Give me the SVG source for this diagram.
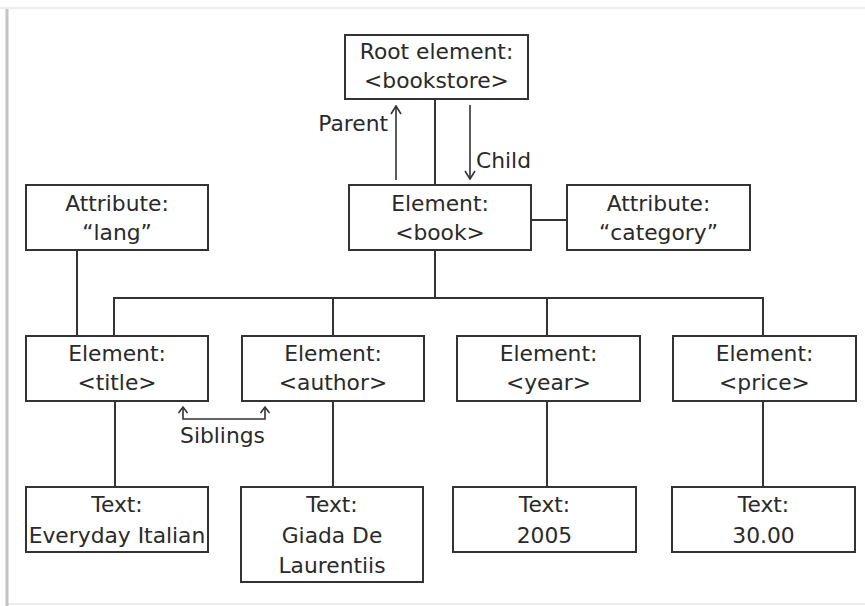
<svg xmlns="http://www.w3.org/2000/svg" width="865" height="606" viewBox="0 0 865 606">
  <style>
    .box { fill: #ffffff; stroke: #333333; stroke-width: 2; }
    .wire { fill: none; stroke: #333333; stroke-width: 2; }
    .arrow { fill: none; stroke: #333333; stroke-width: 1.6; }
    text { font-family: "DejaVu Sans", Verdana, sans-serif; font-size: 21.8px; fill: #2a2a2a; }
    .c { text-anchor: middle; }
  </style>
  <defs>
    <marker id="open-head" viewBox="0 0 10 12" refX="9" refY="6" markerWidth="10" markerHeight="12" markerUnits="userSpaceOnUse" orient="auto">
      <path d="M1,1 L9,6 L1,11" fill="none" stroke="#333333" stroke-width="1.6"/>
    </marker>
  </defs>

  <!-- page background and frame -->
  <rect x="0" y="0" width="865" height="606" fill="#ffffff"/>
  <line x1="0" y1="8" x2="865" y2="8" stroke="#ececec" stroke-width="2"/>
  <line x1="8" y1="604" x2="865" y2="604" stroke="#ececec" stroke-width="2"/>
  <line x1="7" y1="9" x2="7" y2="606" stroke="#c4c4c4" stroke-width="3"/>

  <!-- connectors -->
  <g id="connectors">
    <line class="wire" x1="435" y1="99" x2="435" y2="185"/>
    <line class="wire" x1="531" y1="220" x2="567" y2="220"/>
    <line class="wire" x1="77" y1="250" x2="77" y2="336"/>
    <line class="wire" x1="435" y1="250" x2="435" y2="298"/>
    <polyline class="wire" points="114,336 114,298 763,298 763,336"/>
    <line class="wire" x1="333" y1="298" x2="333" y2="336"/>
    <line class="wire" x1="547" y1="298" x2="547" y2="336"/>
    <line class="wire" x1="115" y1="401" x2="115" y2="487"/>
    <line class="wire" x1="333" y1="401" x2="333" y2="487"/>
    <line class="wire" x1="547" y1="401" x2="547" y2="487"/>
    <line class="wire" x1="763" y1="401" x2="763" y2="487"/>

    <!-- parent / child arrows -->
    <line class="arrow" x1="396" y1="180" x2="396" y2="106" marker-end="url(#open-head)"/>
    <line class="arrow" x1="470" y1="105" x2="470" y2="179" marker-end="url(#open-head)"/>
    <text x="388" y="131" text-anchor="end">Parent</text>
    <text x="476" y="168">Child</text>

    <!-- siblings bracket -->
    <polyline class="arrow" points="183,408 183,419 265,419 265,408"/>
    <polyline class="arrow" points="178.5,413 183,407 187.5,413"/>
    <polyline class="arrow" points="260.5,413 265,407 269.5,413"/>
    <text class="c" x="222.5" y="443">Siblings</text>
  </g>

  <g id="root">
    <rect class="box" x="345" y="35" width="183" height="64"/>
    <text class="c" x="436.5" y="59">Root element:</text>
    <text class="c" x="436.5" y="88">&lt;bookstore&gt;</text>
  </g>

  <g id="book">
    <rect class="box" x="349" y="185" width="182" height="65"/>
    <text class="c" x="440" y="211">Element:</text>
    <text class="c" x="440" y="240">&lt;book&gt;</text>
  </g>

  <g id="attr-lang">
    <rect class="box" x="26" y="185" width="182" height="65"/>
    <text class="c" x="117" y="211">Attribute:</text>
    <text class="c" x="117" y="240">“lang”</text>
  </g>

  <g id="attr-category">
    <rect class="box" x="567" y="185" width="183" height="65"/>
    <text class="c" x="658.5" y="211">Attribute:</text>
    <text class="c" x="658.5" y="240">“category”</text>
  </g>

  <g id="title">
    <rect class="box" x="26" y="336" width="182" height="65"/>
    <text class="c" x="117" y="361">Element:</text>
    <text class="c" x="117" y="390">&lt;title&gt;</text>
  </g>

  <g id="author">
    <rect class="box" x="242" y="336" width="182" height="65"/>
    <text class="c" x="333" y="361">Element:</text>
    <text class="c" x="333" y="390">&lt;author&gt;</text>
  </g>

  <g id="year">
    <rect class="box" x="457" y="336" width="183" height="65"/>
    <text class="c" x="548.5" y="361">Element:</text>
    <text class="c" x="548.5" y="390">&lt;year&gt;</text>
  </g>

  <g id="price">
    <rect class="box" x="673" y="336" width="183" height="65"/>
    <text class="c" x="764.5" y="361">Element:</text>
    <text class="c" x="764.5" y="390">&lt;price&gt;</text>
  </g>

  <g id="text-title">
    <rect class="box" x="26" y="487" width="182" height="65"/>
    <text class="c" x="117" y="512">Text:</text>
    <text class="c" x="117" y="543">Everyday Italian</text>
  </g>

  <g id="text-author">
    <rect class="box" x="241" y="487" width="182" height="95"/>
    <text class="c" x="332" y="512">Text:</text>
    <text class="c" x="332" y="543">Giada De</text>
    <text class="c" x="332" y="573">Laurentiis</text>
  </g>

  <g id="text-year">
    <rect class="box" x="453" y="487" width="183" height="65"/>
    <text class="c" x="544.5" y="512">Text:</text>
    <text class="c" x="544.5" y="543">2005</text>
  </g>

  <g id="text-price">
    <rect class="box" x="672" y="487" width="183" height="65"/>
    <text class="c" x="763.5" y="512">Text:</text>
    <text class="c" x="763.5" y="543">30.00</text>
  </g>
</svg>
